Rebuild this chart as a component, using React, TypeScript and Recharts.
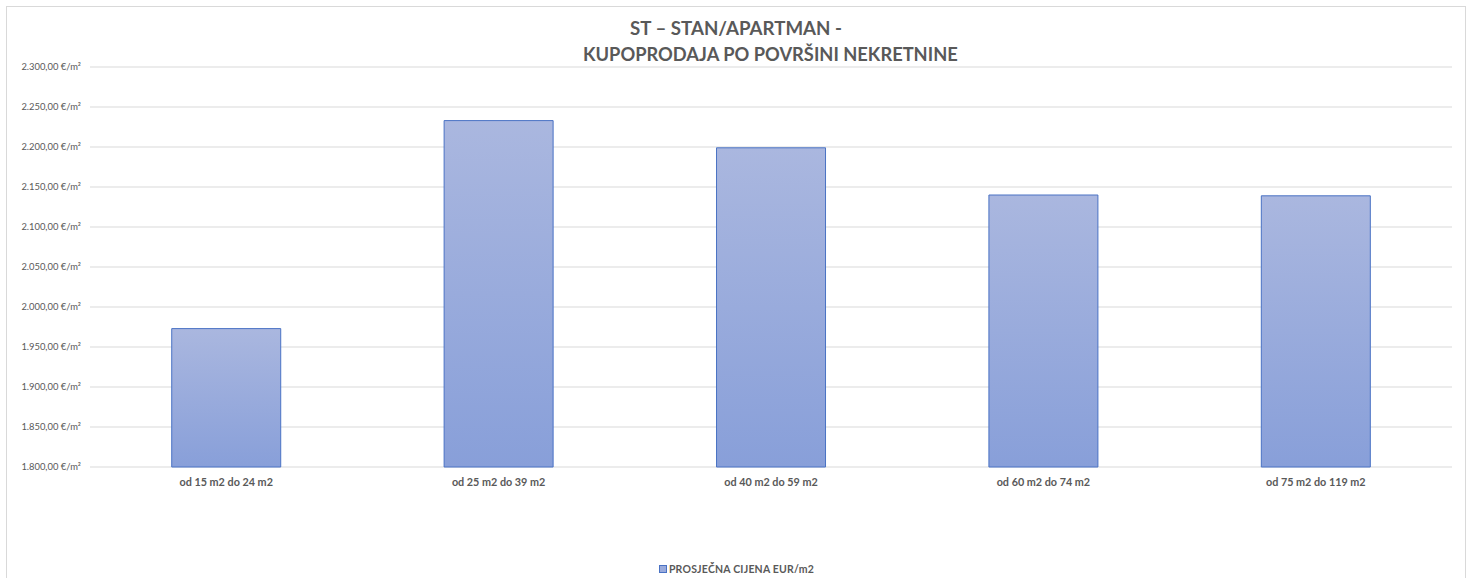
import React from "react";
import { BarChart, Bar, XAxis, YAxis, CartesianGrid } from "recharts";

const categories = ["od 15 m2 do 24 m2", "od 25 m2 do 39 m2", "od 40 m2 do 59 m2", "od 60 m2 do 74 m2", "od 75 m2 do 119 m2"];
const prices = [1973, 2233, 2199, 2140, 2139];
const yTicks = [1800, 1850, 1900, 1950, 2000, 2050, 2100, 2150, 2200, 2250, 2300];
const seriesName = "PROSJEČNA CIJENA EUR/m2";
const titleLine1 = "ST – STAN/APARTMAN -";
const titleLine2 = "KUPOPRODAJA PO POVRŠINI NEKRETNINE";

const data = categories.map((c, i) => ({ name: c, value: prices[i] }));

const FONT = "Lato, 'Open Sans', sans-serif";
const GREY = "#595959";

const fmt = (v: number) => {
  const s = v.toFixed(2).replace(".", ",");
  const [int, dec] = s.split(",");
  const withDots = int.replace(/\B(?=(\d{3})+(?!\d))/g, ".");
  return `${withDots},${dec} €/m²`;
};

export default function App() {
  return (
    <div style={{ position: "relative", width: 1473, height: 578, background: "#fff", overflow: "hidden" }}>
      <style>{`body{margin:0;}`}</style>
      <div style={{ position: "absolute", left: 6, top: 6, width: 1460, height: 580, border: "1px solid #d9d9d9", boxSizing: "border-box" }} />
      <div style={{ position: "absolute", left: 630, top: 18, fontFamily: FONT, fontWeight: 700, fontSize: 18.7, color: GREY, whiteSpace: "nowrap", lineHeight: "20px" }}>{titleLine1}</div>
      <div style={{ position: "absolute", left: 583, top: 44, fontFamily: FONT, fontWeight: 700, fontSize: 18.3, color: GREY, whiteSpace: "nowrap", lineHeight: "20px" }}>{titleLine2}</div>
      <div style={{ position: "absolute", left: 0, top: 0 }}>
        <BarChart width={1473} height={578} data={data} margin={{ top: 67, right: 21, bottom: 81, left: 0 }} barCategoryGap="30%">
          <defs>
            <linearGradient id="barGrad" x1="0" y1="0" x2="0" y2="1">
              <stop offset="0%" stopColor="#AAB7DF" />
              <stop offset="100%" stopColor="#889FD9" />
            </linearGradient>
          </defs>
          <CartesianGrid vertical={false} stroke="#d9d9d9" strokeWidth={1} />
          <XAxis dataKey="name" height={30} axisLine={false} tickLine={false} tickSize={6} tickMargin={5} interval={0}
            tick={{ fontFamily: FONT, fontWeight: 700, fontSize: 10.8, fill: GREY }} />
          <YAxis width={90} domain={[1800, 2300]} ticks={yTicks} interval={0} axisLine={false} tickLine={false} tickSize={6} tickMargin={3}
            tickFormatter={fmt} tick={{ fontFamily: FONT, fontSize: 9.4, fill: GREY }} />
          <Bar dataKey="value" name={seriesName} fill="url(#barGrad)" stroke="#4A72C4" strokeWidth={1} isAnimationActive={false} />
        </BarChart>
      </div>
      <div style={{ position: "absolute", left: 0, top: 562, width: 1473, display: "flex", alignItems: "center", justifyContent: "center", fontFamily: FONT, fontWeight: 700, fontSize: 10.5, color: GREY, lineHeight: "14px" }}>
        <span style={{ display: "inline-block", width: 6, height: 6, background: "#9AABDC", border: "1px solid #4A72C4", marginRight: 2 }} />
        <span style={{ letterSpacing: 0.2 }}>{seriesName}</span>
      </div>
    </div>
  );
}
